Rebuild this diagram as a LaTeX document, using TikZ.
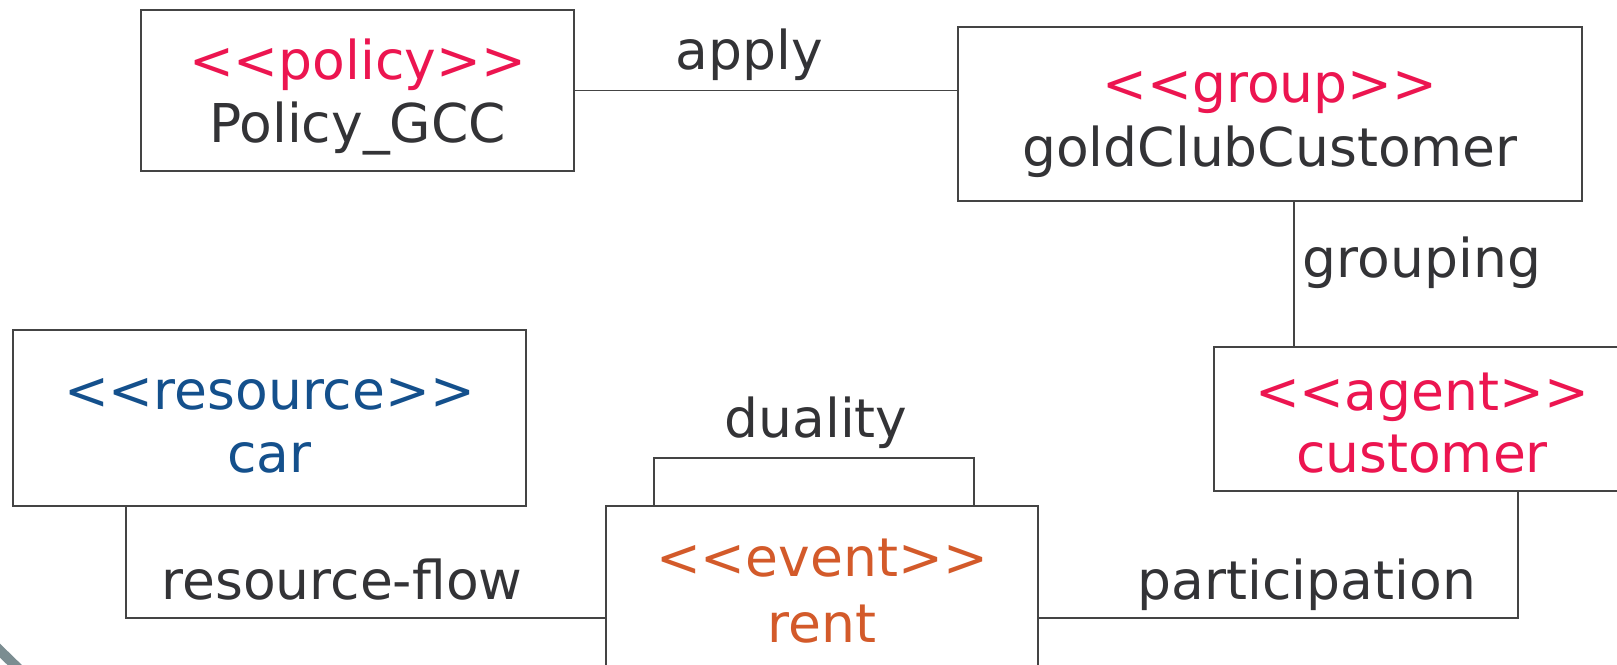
\documentclass[tikz,border=0pt]{standalone}
\usepackage{fontspec}
\setmainfont{DejaVu Sans}
\definecolor{pinkc}{HTML}{EC1550}
\definecolor{bluec}{HTML}{14508C}
\definecolor{orangec}{HTML}{D35A2A}
\definecolor{textc}{HTML}{333336}
\definecolor{linec}{HTML}{444444}
\definecolor{arcc}{HTML}{7B8D91}
\tikzset{
  box/.style={draw=linec, line width=2pt, rectangle, inner sep=0pt},
  txt/.style={anchor=base, inner sep=0pt, font=\fontsize{53.5}{63}\selectfont},
  conn/.style={draw=linec, line width=1.6pt},
}
\begin{document}
\begin{tikzpicture}[x=1pt,y=1pt]
\useasboundingbox (0,0) rectangle (1617,664);
\clip (0,0) rectangle (1617,664);
\fill[white] (0,0) rectangle (1617,664);
% decorative arc in the corner
\draw[arcc, line width=10pt] (-12,25) -- (26,-12);
% boxes
\node[box, minimum width=433pt, minimum height=161pt] (policy) at (357.5,573.5) {};
\node[box, minimum width=624pt, minimum height=174pt] (gold) at (1270,550) {};
\node[box, minimum width=513pt, minimum height=176pt] (resource) at (269.5,246) {};
\node[box, minimum width=416pt, minimum height=144pt] (agent) at (1422,245) {};
\node[box, minimum width=432pt, minimum height=173pt] (event) at (822,71.5) {};
% box texts
\node[txt, text=pinkc] (policyS) at (357.5,584) {<{}<policy>{}>};
\node[txt, text=textc] (policyN) at (357.5,521) {Policy\_GCC};
\node[txt, text=pinkc] (goldS) at (1270,561) {<{}<group>{}>};
\node[txt, text=textc] (goldN) at (1270,497) {goldClubCustomer};
\node[txt, text=bluec] (resS) at (269.5,254) {<{}<resource>{}>};
\node[txt, text=bluec] (resN) at (269.5,191) {car};
\node[txt, text=pinkc] (agentS) at (1422,253) {<{}<agent>{}>};
\node[txt, text=pinkc] (agentN) at (1422,191) {customer};
\node[txt, text=orangec] (eventS) at (822,87) {<{}<event>{}>};
\node[txt, text=orangec] (eventN) at (822,22) {rent};
% connectors
\coordinate (dl) at (654,206);
\coordinate (dr) at (974,206);
\coordinate (rf) at (126,46);
\coordinate (pa) at (1518,46);
\draw[conn] (policy.east) -- (policy.east -| gold.west);
\draw[conn] (gold.south -| 1294,0) -- (agent.north -| 1294,0);
\draw[conn] (dl |- event.north) -- (dl) -- (dr) -- (dr |- event.north);
\draw[conn] (rf |- resource.south) -- (rf) -- (rf -| event.west);
\draw[conn] (pa |- agent.south) -- (pa) -- (pa -| event.east);
% connector labels
\node[txt, text=textc] (lapply) at (749,594) {apply};
\node[txt, text=textc] (lgroup) at (1422,386) {grouping};
\node[txt, text=textc] (ldual) at (816,226) {duality};
\node[txt, text=textc] (lrf) at (342,64) {resource-flow};
\node[txt, text=textc] (lpart) at (1307,64) {participation};
\end{tikzpicture}
\end{document}
